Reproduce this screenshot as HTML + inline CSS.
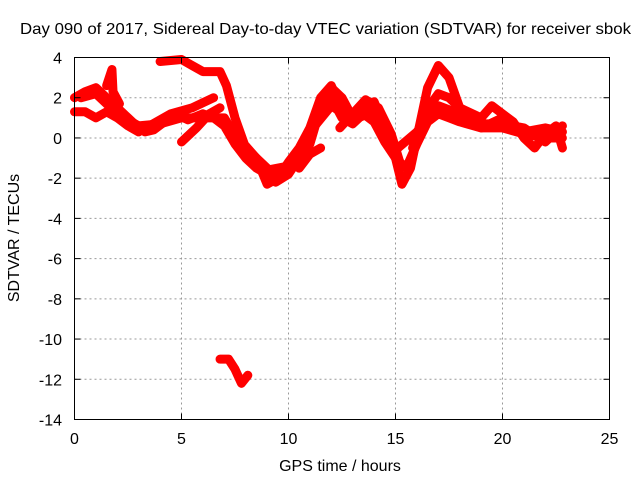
<!DOCTYPE html>
<html><head><meta charset="utf-8"><style>
body{margin:0;background:#fff}
text{font-family:"Liberation Sans",sans-serif;font-size:16px;fill:#000}
</style></head><body>
<svg id="chart" width="640" height="480" xmlns="http://www.w3.org/2000/svg">
<rect width="640" height="480" fill="#fff"/>
<text x="20" y="34" textLength="611" lengthAdjust="spacingAndGlyphs">Day 090 of 2017, Sidereal Day-to-day VTEC variation (SDTVAR) for receiver sbok</text>
<g id="grid"></g>
<g id="series"></g>
<g id="axes"></g>
<text x="340" y="471" text-anchor="middle">GPS time / hours</text>
<text transform="translate(19,238) rotate(-90)" text-anchor="middle">SDTVAR / TECUs</text>
</svg>
<script>
const xTicks=[0,5,10,15,20,25];
const yTicks=[4,2,0,-2,-4,-6,-8,-10,-12,-14];
const trackTop=[[4.0,3.8],[5.0,3.9],[5.5,3.6],[6,3.3],[6.8,3.3],[7.1,2.6],[7.5,1.0],[8,-0.5],[8.5,-1],[9,-1.5],[9.4,-2.2],[10,-1.8],[10.5,-1.0],[11,-0.3],[11.5,1.5],[12,2.5],[12.5,2.0],[13,1.0],[13.5,1.5],[14,1.8],[14.5,0.5],[15,-1.0],[15.3,-2.3],[15.7,-1.5],[16,0],[16.5,2.5],[17,3.6],[17.5,3.0],[18,1.5],[18.5,0.8],[19,0.5],[20,0.5],[21,0.2],[22,0],[22.8,0]];
const trackMain=[[0,2.0],[0.5,2.3],[1,2.5],[1.5,2.0],[2,1.5],[2.5,1.0],[3,0.5],[3.3,0.3],[3.7,0.4],[4.2,0.8],[4.7,1.2],[5.3,0.9],[6,1.2],[6.5,1.0],[7,0.6],[7.5,-0.3],[8,-1],[8.5,-1.5],[9,-1.8],[9.5,-2.0],[10,-1.5],[10.5,-0.8],[11,0],[11.5,1.5],[12,2.0],[12.5,1.0],[13,0.7],[13.5,1.2],[14,0.8],[14.5,-0.2],[15,-1.0],[15.5,-1.5],[16,-0.3],[16.5,0.8],[17,1.2],[17.5,1.0],[18,0.8],[19,0.5],[20,1.0],[21,0.3],[22,0.5],[22.8,0.3]];
const trackLow=[[0,1.3],[0.5,1.3],[1.0,1.0],[1.5,1.3],[2,1.0],[2.5,0.6],[3,0.3]];
const trackSpike=[[1.5,2.6],[1.75,3.4],[1.8,2.3],[2.1,1.7]];
const trackRise=[[5,-0.2],[5.7,0.5],[6.3,1.2],[6.8,1.5]];
const trackMid=[[3.5,0.6],[4.5,1.2],[5.5,1.5],[6.5,2.0]];
const trackLoop=[[15.8,-0.5],[16.2,0.8],[16.6,1.6],[17,2.2],[17.5,2.0],[18,1.5],[19,1.0],[19.5,1.6],[20,1.2],[20.5,0.8],[21,0],[21.5,-0.5],[22,0.2],[22.5,0.6],[22.8,-0.5]];
const trackDip=[[8,-0.4],[8.5,-1],[9,-2.3],[9.5,-2.0],[10,-1.2],[10.5,-0.5],[11,0.5],[11.5,2.0],[12,2.6],[12.4,1.6]];
const trackBits=[[10.5,-1.5],[11,-0.8],[11.5,-0.5]];
const trackMid2=[[12.4,0.5],[13,1.2],[13.6,1.9],[14.2,1.5],[14.8,0.2],[15.2,-1.2]];
const trackBand=[[0.3,2.0],[1,2.2],[2,1.2],[3,0.6],[4,0.7],[5,1.0],[6,1.0],[7,1.0],[8,-0.8],[9,-1.6],[10,-1.4],[11,0.3],[12,1.6],[13,0.9],[14,1.3],[15,-0.6],[16,0.3],[17,1.6],[18,1.2],[19,0.7],[20,0.7],[21,0.5],[22,-0.2],[22.8,0.6]];
const trackBottom=[[6.8,-11],[7.2,-11],[7.5,-11.5],[7.8,-12.2],[8.1,-11.8]];
const tracks=[trackTop,trackMain,trackLow,trackSpike,trackRise,trackMid,trackLoop,trackDip,trackBits,trackMid2,trackBand,trackBottom];
const X0=74.5,X1=609.5,Y0=57.5,Y1=419.5;
const xs=v=>X0+(v-0)/25*(X1-X0);
const ys=v=>Y1-(v+14)/18*(Y1-Y0);
const NS="http://www.w3.org/2000/svg";
const mk=(t,a,p)=>{const e=document.createElementNS(NS,t);for(const k in a)e.setAttribute(k,a[k]);p.appendChild(e);return e;};
const grid=document.getElementById('grid'),axes=document.getElementById('axes'),series=document.getElementById('series');
xTicks.forEach(t=>{
  if(t>0&&t<25){const g=mk('line',{x1:xs(t),x2:xs(t),y1:Y0,y2:Y1,stroke:'#999','stroke-dasharray':'2,3'},grid);
  
  }
  mk('line',{x1:xs(t),x2:xs(t),y1:Y1,y2:Y1-6,stroke:'#000'},axes);
  mk('line',{x1:xs(t),x2:xs(t),y1:Y0,y2:Y0+6,stroke:'#000'},axes);
  const l=mk('text',{x:xs(t),y:444,'text-anchor':'middle'},axes);l.textContent=t;
  
  
});
yTicks.forEach(t=>{
  if(t>-14&&t<4){const g=mk('line',{x1:X0,x2:X1,y1:ys(t),y2:ys(t),stroke:'#999','stroke-dasharray':'2,3'},grid);
  
  }
  mk('line',{x1:X0,x2:X0+6,y1:ys(t),y2:ys(t),stroke:'#000'},axes);
  mk('line',{x1:X1,x2:X1-6,y1:ys(t),y2:ys(t),stroke:'#000'},axes);
  const l=mk('text',{x:62,y:ys(t)+6,'text-anchor':'end'},axes);l.textContent=t;
  
  
});
mk('rect',{x:X0,y:Y0,width:X1-X0,height:Y1-Y0,fill:'none',stroke:'#000'},axes);
tracks.forEach(tr=>{
  const p=mk('polyline',{points:tr.map(d=>xs(d[0])+','+ys(d[1])).join(' '),fill:'none',stroke:'#f00','stroke-width':9,'stroke-linejoin':'round','stroke-linecap':'round'},series);
  
  
});
</script>
</body></html>
